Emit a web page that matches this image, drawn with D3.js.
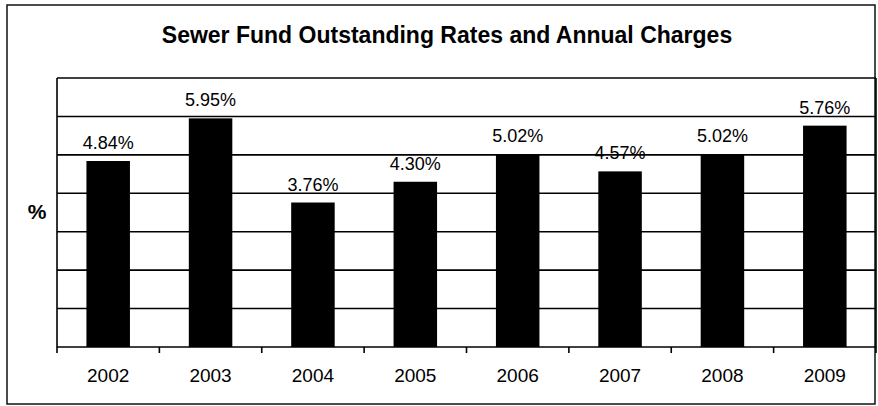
<!DOCTYPE html>
<html>
<head>
<meta charset="utf-8">
<script src="https://cdn.jsdelivr.net/npm/d3@7"></script>
<style>
  html, body { margin: 0; padding: 0; background: #fff; }
  svg { display: block; font-family: "Liberation Sans", Arial, Helvetica, sans-serif; }
</style>
</head>
<body>
<svg id="chart" width="878" height="406"></svg>
<script>
// Sewer fund outstanding rates by year
const years = ["2002", "2003", "2004", "2005", "2006", "2007", "2008", "2009"];
const rates = [4.84, 5.95, 3.76, 4.30, 5.02, 4.57, 5.02, 5.76];
const rateLabels = ["4.84%", "5.95%", "3.76%", "4.30%", "5.02%", "4.57%", "5.02%", "5.76%"];
const gridValues = [1, 2, 3, 4, 5, 6, 7];

const svg = d3.select("#chart");
const plot = { left: 57, right: 876, top: 78, bottom: 347 };

// outer frame
svg.append("rect")
  .attr("x", 7).attr("y", 5)
  .attr("width", 868).attr("height", 399)
  .attr("fill", "#fff")
  .attr("stroke", "#111").attr("stroke-width", 1.5);

// title
svg.append("text")
  .attr("x", 447).attr("y", 43)
  .attr("text-anchor", "middle")
  .attr("font-size", 23).attr("font-weight", "bold")
  .attr("fill", "#000")
  .text("Sewer Fund Outstanding Rates and Annual Charges");

const x = d3.scaleBand().domain(years).range([plot.left, plot.right]).padding(0);
const y = d3.scaleLinear().domain([0, 7]).range([plot.bottom, plot.top]);

// horizontal gridlines
svg.append("g")
  .selectAll("line")
  .data(gridValues)
  .join("line")
  .attr("x1", plot.left).attr("x2", plot.right)
  .attr("y1", d => y(d)).attr("y2", d => y(d))
  .attr("stroke", "#000").attr("stroke-width", 1.6);

// left and right edges of the plot area
svg.append("line")
  .attr("x1", plot.left).attr("x2", plot.left)
  .attr("y1", plot.top).attr("y2", plot.bottom)
  .attr("stroke", "#000").attr("stroke-width", 1.6);
svg.append("line")
  .attr("x1", plot.right).attr("x2", plot.right)
  .attr("y1", plot.top).attr("y2", plot.bottom)
  .attr("stroke", "#000").attr("stroke-width", 1.6);

// bars
const barFrac = 0.425;
const barW = x.bandwidth() * barFrac;
svg.append("g")
  .selectAll("rect")
  .data(years)
  .join("rect")
  .attr("x", (d) => x(d) + (x.bandwidth() - barW) / 2)
  .attr("y", (d, i) => y(rates[i]))
  .attr("width", barW)
  .attr("height", (d, i) => y(0) - y(rates[i]))
  .attr("fill", "#000");

// value labels
svg.append("g")
  .selectAll("text")
  .data(years)
  .join("text")
  .attr("x", d => x(d) + x.bandwidth() / 2)
  .attr("y", (d, i) => y(rates[i]) - 12)
  .attr("text-anchor", "middle")
  .attr("font-size", 18)
  .attr("fill", "#000")
  .text((d, i) => rateLabels[i]);

// x axis with boundary ticks between categories
const xAxisG = svg.append("g");
xAxisG.append("line")
  .attr("x1", plot.left).attr("x2", plot.right)
  .attr("y1", plot.bottom).attr("y2", plot.bottom)
  .attr("stroke", "#000").attr("stroke-width", 1.6);
const boundaries = years.map(d => x(d)).concat([x(years[years.length - 1]) + x.bandwidth()]);
xAxisG.selectAll("line.tick")
  .data(boundaries)
  .join("line")
  .attr("class", "tick")
  .attr("x1", d => d).attr("x2", d => d)
  .attr("y1", plot.bottom).attr("y2", plot.bottom + 6)
  .attr("stroke", "#000").attr("stroke-width", 1.6);
xAxisG.selectAll("text")
  .data(years)
  .join("text")
  .attr("x", d => x(d) + x.bandwidth() / 2)
  .attr("y", 382)
  .attr("text-anchor", "middle")
  .attr("font-size", 19)
  .attr("fill", "#000")
  .text(d => d);

// y axis title
svg.append("text")
  .attr("x", 37).attr("y", 219)
  .attr("text-anchor", "middle")
  .attr("font-size", 21).attr("font-weight", "bold")
  .attr("fill", "#000")
  .text("%");
</script>
</body>
</html>
